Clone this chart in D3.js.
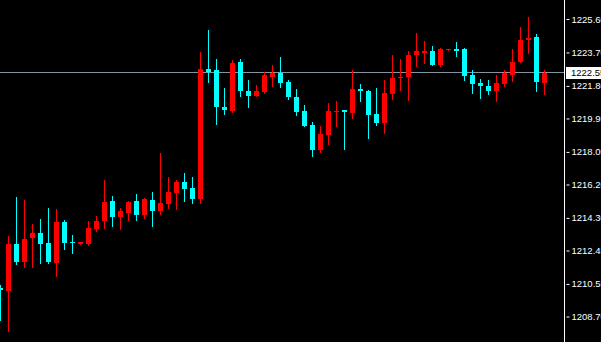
<html>
<head>
<script src="https://cdnjs.cloudflare.com/ajax/libs/d3/7.8.5/d3.min.js"></script>
<style>
  body { margin: 0; background: black; overflow: hidden; }
</style>
</head>
<body></body>
<script>
var screen = {width: 601, height: 342, bgColor: "black"};

// candle values, oldest first
var opens = [1210.32, 1210.15, 1212.82, 1211.80, 1213.16, 1213.44, 1212.87, 1211.74, 1214.07, 1212.95,
  1212.82, 1212.82, 1213.67, 1214.12, 1215.26, 1214.35, 1214.58, 1215.26, 1214.47, 1215.32,
  1214.69, 1215.09, 1215.72, 1216.34, 1216.00, 1215.37, 1222.76, 1222.70, 1220.60, 1220.37,
  1223.16, 1221.51, 1221.23, 1221.45, 1222.30, 1222.53, 1222.02, 1221.17, 1220.37, 1219.58,
  1218.16, 1219.01, 1220.35, 1220.43, 1220.26, 1221.62, 1221.51, 1220.20, 1219.69, 1221.34,
  1222.28, 1222.30, 1223.55, 1223.67, 1223.78, 1222.99, 1223.84, 1223.90, 1223.90, 1222.42,
  1221.96, 1221.79, 1221.51, 1221.91, 1222.42, 1223.16, 1224.41, 1224.58, 1221.96];
var highs = [1210.49, 1213.27, 1215.49, 1215.32, 1213.95, 1214.24, 1214.86, 1214.81, 1214.18, 1213.33,
  1212.93, 1214.12, 1214.41, 1216.45, 1215.54, 1214.86, 1215.26, 1215.66, 1215.43, 1215.77,
  1217.99, 1216.62, 1216.45, 1216.85, 1216.62, 1223.73, 1224.98, 1223.33, 1221.68, 1223.27,
  1223.33, 1222.13, 1221.85, 1222.59, 1222.99, 1223.44, 1222.13, 1221.62, 1220.71, 1219.75,
  1219.52, 1220.83, 1220.94, 1220.43, 1222.70, 1221.91, 1221.57, 1221.68, 1222.13, 1223.55,
  1223.33, 1223.78, 1224.80, 1224.35, 1224.07, 1223.95, 1223.90, 1224.29, 1223.95, 1222.70,
  1222.19, 1222.13, 1222.42, 1222.70, 1223.90, 1225.15, 1225.71, 1224.75, 1222.70];
var lows = [1208.50, 1207.88, 1211.68, 1211.51, 1211.51, 1211.74, 1211.74, 1211.00, 1212.53, 1212.31,
  1212.82, 1212.76, 1213.56, 1213.73, 1213.84, 1213.67, 1214.18, 1214.18, 1214.30, 1213.84,
  1214.52, 1214.86, 1214.81, 1215.26, 1215.15, 1215.15, 1222.02, 1219.64, 1220.20, 1220.32,
  1221.23, 1220.60, 1221.23, 1221.40, 1221.79, 1221.74, 1221.06, 1220.15, 1219.52, 1217.82,
  1218.04, 1218.50, 1219.52, 1218.21, 1219.98, 1220.94, 1218.84, 1219.58, 1219.12, 1221.06,
  1221.57, 1221.00, 1222.93, 1223.10, 1222.99, 1222.93, 1223.84, 1223.50, 1222.13, 1221.40,
  1221.11, 1221.34, 1220.94, 1221.79, 1222.08, 1223.16, 1223.67, 1221.51, 1221.34];
var closes = [1210.21, 1212.82, 1211.80, 1213.10, 1213.44, 1212.82, 1211.80, 1214.07, 1212.87, 1212.90,
  1212.93, 1213.73, 1214.12, 1215.20, 1214.35, 1214.69, 1215.20, 1214.47, 1215.37, 1214.69,
  1215.15, 1215.77, 1216.34, 1215.94, 1215.37, 1222.76, 1222.59, 1220.60, 1220.43, 1223.10,
  1221.51, 1221.23, 1221.51, 1222.42, 1222.53, 1221.96, 1221.17, 1220.32, 1219.52, 1218.16,
  1219.07, 1220.37, 1220.39, 1220.32, 1221.62, 1221.51, 1220.15, 1219.69, 1221.40, 1222.25,
  1222.32, 1223.55, 1223.78, 1223.78, 1222.99, 1223.90, 1223.90, 1223.78, 1222.36, 1221.91,
  1221.79, 1221.51, 1221.96, 1222.53, 1223.16, 1224.41, 1224.52, 1222.02, 1222.55];

var tickValues = [1225.60, 1223.70, 1221.80, 1219.95, 1218.05, 1216.20, 1214.30, 1212.45, 1210.55, 1208.70];
var lastPrice = 1222.55;

var upColor = "#ff0000", downColor = "#00ffff";
var axisX = 564.5;

var svg = d3.select("body")
  .append("svg")
  .attr("width", screen.width)
  .attr("height", screen.height)
  .style("background-color", screen.bgColor)
  .style("display", "block");

var candles = opens.map(function(o, i) {
  return {i: i, o: o, h: highs[i], l: lows[i], c: closes[i]};
});

var x = d3.scaleLinear().domain([0, 1]).range([0.5, 8.5]);
var y = d3.scaleLinear().domain([1208.70, 1225.60]).range([316.5, 19]);

// current price line
svg.append("line")
  .attr("x1", 0).attr("x2", axisX)
  .attr("y1", Math.round(y(lastPrice)) - 0.5)
  .attr("y2", Math.round(y(lastPrice)) - 0.5)
  .attr("stroke", "#8494a6")
  .attr("stroke-width", 1);

var g = svg.selectAll("g.candle").data(candles).enter()
  .append("g").attr("class", "candle");

function col(d) { return d.c >= d.o ? upColor : downColor; }

g.append("line")
  .attr("x1", function(d) { return x(d.i); })
  .attr("x2", function(d) { return x(d.i); })
  .attr("y1", function(d) { return Math.round(y(d.h)); })
  .attr("y2", function(d) { return Math.round(y(d.l)) + 1; })
  .attr("stroke", col)
  .attr("stroke-width", 1);

g.append("rect")
  .attr("x", function(d) { return x(d.i) - 2.5; })
  .attr("width", 5)
  .attr("y", function(d) { return Math.round(y(Math.max(d.o, d.c))); })
  .attr("height", function(d) {
    return Math.max(1, Math.round(y(Math.min(d.o, d.c))) - Math.round(y(Math.max(d.o, d.c))));
  })
  .attr("fill", col);

// price scale on the right
svg.append("line")
  .attr("x1", axisX).attr("x2", axisX)
  .attr("y1", 0).attr("y2", screen.height)
  .attr("stroke", "white");

var axis = d3.axisRight(y)
  .tickValues(tickValues)
  .tickFormat(d3.format(".2f"))
  .tickSize(3)
  .tickPadding(2);

var ax = svg.append("g")
  .attr("transform", "translate(" + (axisX + 2) + ",0)")
  .call(axis);
ax.select(".domain").remove();
ax.selectAll(".tick line").attr("stroke", "white");
ax.selectAll(".tick text")
  .attr("fill", "white")
  .style("font-family", "'Liberation Sans', Arial, sans-serif")
  .style("font-size", "9.5px");

// last price box
var ly = Math.round(y(lastPrice));
svg.append("rect")
  .attr("x", 566).attr("y", ly - 6)
  .attr("width", 40).attr("height", 12)
  .attr("fill", "white");
svg.append("text")
  .attr("x", 571).attr("y", ly)
  .attr("dy", "0.35em")
  .attr("fill", "black")
  .style("font-family", "'Liberation Sans', Arial, sans-serif")
  .style("font-size", "9.5px")
  .text(d3.format(".2f")(lastPrice));
</script>
</html>
